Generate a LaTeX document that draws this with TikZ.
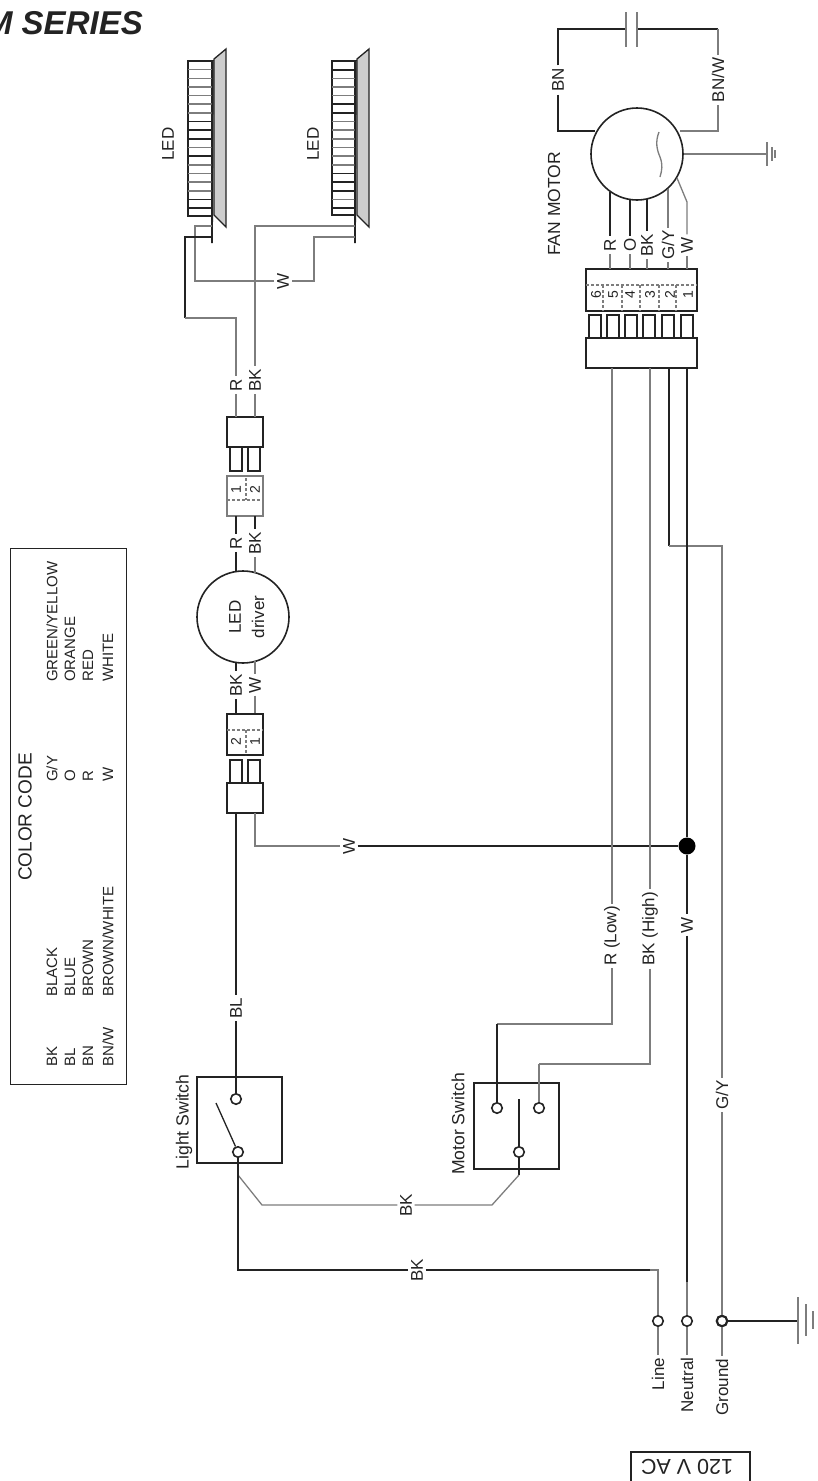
\documentclass[tikz,border=0pt]{standalone}
\usepackage{fontspec}
\setmainfont{Liberation Sans}
\usetikzlibrary{calc}
\definecolor{graywire}{RGB}{125,125,125}
\definecolor{darkwire}{RGB}{35,35,35}
\definecolor{panel}{RGB}{205,205,205}
\tikzset{
    wire/.style={draw=graywire, line width=1.3pt},
    wirek/.style={draw=darkwire, line width=1.8pt},
    box/.style={draw=darkwire, line width=1.7pt, fill=white, inner sep=0pt},
    pin/.style={draw=darkwire, line width=1.3pt},
    term/.style={circle, draw=darkwire, line width=1.6pt, fill=white, minimum size=10.5pt, inner sep=0pt},
    lbl/.style={rotate=90, inner sep=2.5pt, font=\fontsize{17}{17}\selectfont, text=darkwire},
    num/.style={rotate=90, inner sep=0pt, font=\fontsize{14}{14}\selectfont, text=darkwire},
    code/.style={rotate=90, anchor=west, inner sep=0pt, font=\fontsize{15}{15}\selectfont, text=darkwire},
    split/.style={draw=graywire, line width=1.3pt, densely dashed},
}
\begin{document}
\begin{tikzpicture}[x=1pt,y=-1pt]
    \useasboundingbox (0,0) rectangle (817,1481);

    \node[anchor=east, inner sep=0pt, font=\fontsize{33}{33}\selectfont\bfseries\itshape, text=darkwire] (title) at (143,23) {M SERIES};

    % color code
    \node[draw=darkwire, line width=1.2pt, minimum width=116pt, minimum height=536pt, inner sep=0pt, anchor=north west] (codebox) at (10,548) {};
    \node[lbl, font=\fontsize{19}{19}\selectfont] (codetitle) at (25,817) {COLOR CODE};
    \foreach \xc/\ka/\va/\kb/\vb [count=\i] in {52/BK/BLACK/G\slash Y/GREEN\slash YELLOW, 70/BL/BLUE/O/ORANGE, 88/BN/BROWN/R/RED, 108/BN\slash W/BROWN\slash WHITE/W/WHITE}{
        \node[code] (ka\i) at (\xc,1067) {\ka};
        \node[code] (va\i) at (\xc,997) {\va};
        \node[code] (kb\i) at (\xc,782) {\kb};
        \node[code] (vb\i) at (\xc,682) {\vb};
    }

    % led bars
    \draw[pin, fill=panel] (214,59) -- (226,49) -- (226,227) -- (214,215) -- cycle;
    \draw[pin, fill=panel] (357,59) -- (369,49) -- (369,227) -- (357,215) -- cycle;
    \node[box, minimum width=24pt, minimum height=155pt] (ledA) at (200,138.5) {};
    \node[box, minimum width=23pt, minimum height=154pt] (ledB) at (343.5,138) {};
    \foreach \i in {1,...,17}{
        \draw[wire, line width=1.6pt] (188,{61+8.65*\i}) -- ++(24,0);
        \draw[wire, line width=1.6pt] (332,{61+8.65*\i}) -- ++(23,0);
    }
    \foreach \i in {7,8,9,11,16,17}{
        \draw[pin, line width=1.7pt] (188,{61+8.65*\i}) -- ++(24,0);
    }
    \foreach \i in {1,5,6,13,14,15,17}{
        \draw[pin, line width=1.7pt] (332,{61+8.65*\i}) -- ++(23,0);
    }
    \coordinate (ledAend) at (212,243);
    \coordinate (ledBend) at (355,243);
    \draw[wirek] (ledA.north east) -- (ledAend);
    \draw[wirek] (ledB.north east) -- (ledBend);
    \node[lbl] (ledAl) at (168,144) {LED};
    \node[lbl] (ledBl) at (313,144) {LED};

    % led wiring
    \node[lbl] (wled) at (283,281) {W};
    \node[lbl] (rtop) at (236,385) {R};
    \node[lbl] (bktop) at (255,380) {BK};
    \draw[wire] (212,226) -- (195,226) -- (195,281) -- (wled);
    \draw[wire] (355,237) -| (314,281) -- (wled);
    \draw[wirek] (212,237) -| (185,318);
    \draw[wire] (185,318) -| (rtop);
    \draw[wire] (355,226) -| (bktop);

    % upper led connector
    \node[box, minimum width=36pt, minimum height=30pt] (plugA) at (245,432) {};
    \foreach \xa in {230,248}{
        \draw[pin] (\xa,447) rectangle ++(12,24);
    }
    \node[box, draw=graywire, minimum width=36pt, minimum height=40pt] (sockA) at (245,496) {};
    \draw[split] (227,500) -- (263,500);
    \draw[split] (246,478) -- (246,500);
    \node[num] (nA1) at (236,490) {1};
    \node[num] (nA2) at (255,490) {2};
    \draw[wire] (bktop) -- (255,417);
    \draw[wire] (rtop) -- (236,417);

    % led driver
    \node[circle, draw=darkwire, line width=1.6pt, minimum size=92pt, inner sep=0pt] (driver) at (243,617) {};
    \node[lbl] (drvA) at (235,617) {LED};
    \node[lbl] (drvB) at (258,617) {driver};
    \node[lbl] (rmid) at (236,543) {R};
    \node[lbl] (bkmid) at (255,543) {BK};
    \node[lbl] (bklow) at (236,685) {BK};
    \node[lbl] (wlow) at (255,685) {W};
    \draw[wirek] (236,516) -- (rmid);
    \draw[wirek] (rmid) -- (236,572);
    \draw[wirek] (255,516) -- (bkmid);
    \draw[wire] (bkmid) -- (255,573);
    \draw[wirek] (236,662) -- (bklow);
    \draw[wirek] (bklow) -- (236,714);
    \draw[wire] (255,661) -- (wlow);
    \draw[wire] (wlow) -- (255,714);

    % lower led connector
    \node[box, minimum width=36pt, minimum height=41pt] (sockB) at (245,734.5) {};
    \draw[split] (227,730) -- (263,730);
    \draw[split] (246,730) -- (246,755);
    \node[num] (nB2) at (236,742) {2};
    \node[num] (nB1) at (255,742) {1};
    \foreach \xa in {230,248}{
        \draw[pin] (\xa,760) rectangle ++(12,23);
    }
    \node[box, minimum width=36pt, minimum height=30pt] (plugB) at (245,798) {};

    % switches
    \node[box, minimum width=85pt, minimum height=86pt] (lsw) at (239.5,1120) {};
    \node[box, minimum width=85pt, minimum height=86pt] (msw) at (516.5,1126) {};
    \node[lbl, font=\fontsize{17.6}{17.6}\selectfont] (lswl) at (184,1122) {Light Switch};
    \node[lbl, font=\fontsize{17.6}{17.6}\selectfont] (mswl) at (458,1124) {Motor Switch};
    \node[term] (lswa) at (236,1099) {};
    \node[term] (lswb) at (238,1152) {};
    \node[term] (mswa) at (497,1108) {};
    \node[term] (mswb) at (539,1108) {};
    \node[term] (mswc) at (519,1152) {};
    \coordinate (lblade) at (216,1103);
    \coordinate (mblade) at (519,1099);
    \coordinate (mtail) at (519,1175);
    \coordinate (ltail) at (238,1175);
    \draw[wire, draw=darkwire] (lswb) -- (lblade);
    \draw[wirek] (mswc) -- (mblade);
    \draw[wirek] (mswc) -- (mtail);

    % mains
    \node[term] (line) at (658,1321) {};
    \node[term] (neutral) at (687,1321) {};
    \node[term, line width=2.2pt] (ground) at (722,1321) {};
    \node[lbl] (linel) at (658,1374) {Line};
    \node[lbl] (neutrall) at (687,1385) {Neutral};
    \node[lbl] (groundl) at (722,1387) {Ground};
    \draw[wire] (line) -- (linel);
    \draw[wire] (neutral) -- (neutrall);
    \draw[wire] (ground) -- (groundl);
    \coordinate (earthA) at (798,1321);
    \draw[wirek] (ground) -- (earthA);
    \draw[wire] (798,1297) -- (798,1344);
    \draw[wire] (806,1304) -- (806,1336);
    \draw[wire] (813,1311) -- (813,1329);
    \node[lbl, rotate=90, font=\fontsize{21.5}{21.5}\selectfont] (acl) at (687,1467) {120 V AC};
    \draw[pin] (631,1481) -- (631,1452) -- (750,1452) -- (750,1481);

    % light switch wiring
    \node[lbl] (bl) at (236,1008) {BL};
    \draw[wirek] (236,813) -- (bl);
    \draw[wirek] (bl) -- (lswa);
    \node[lbl] (bkA) at (406,1205) {BK};
    \node[lbl] (bkB) at (417,1270) {BK};
    \draw[wire] (ltail) -- (262,1205) -- (bkA);
    \draw[wire] (bkA) -- (492,1205) -- (mtail);
    \draw[wirek] (lswb) -- (238,1270) -- (bkB);
    \draw[wirek] (bkB) -- (650,1270);
    \draw[wire] (650,1270) -| (line);

    % neutral and return
    \node[circle, fill=black, minimum size=17pt, inner sep=0pt] (junction) at (687,846) {};
    \node[lbl] (wup) at (349,846) {W};
    \node[lbl] (wdown) at (687,925) {W};
    \draw[wire] (255,813) -- (255,846) -- (wup);
    \draw[wirek] (wup) -- (junction);
    \coordinate (nA) at (687,1282);

    % fan motor
    \node[circle, draw=darkwire, line width=1.6pt, minimum size=92pt, inner sep=0pt] (motor) at (637,154) {};
    \draw[wire] (659,132) .. controls (655,142) and (657,150) .. (660,157) .. controls (663,165) and (662,170) .. (660,177);
    \node[lbl, font=\fontsize{17.5}{17.5}\selectfont] (motorl) at (554,204) {FAN MOTOR};
    \node[lbl] (bn) at (558,80) {BN};
    \node[lbl] (bnw) at (718,80) {BN/W};
    \coordinate (capA) at (626,29);
    \coordinate (capB) at (637,29);
    \draw[wirek] (bn) -- (558,29) -- (capA);
    \draw[wirek] (bn) -- (558,131) -- (595,131);
    \draw[wirek] (capB) -- (718,29);
    \draw[wire] (718,29) -- (bnw);
    \draw[wire] (bnw) -- (718,131) -- (680,131);
    \draw[wire] (626,12) -- (626,47);
    \draw[wire] (637,12) -- (637,47);
    \coordinate (earthB) at (767,154);
    \draw[wire] (motor) -- (earthB);
    \draw[wire] (767,142) -- (767,166);
    \draw[wire] (772,147) -- (772,161);
    \draw[wire] (775,150) -- (775,158);

    % motor connector
    \node[box, minimum width=111pt, minimum height=42pt] (sockM) at (641.5,290) {};
    \draw[split] (586,285) -- (697,285);
    \foreach \xd in {603,622,640,659,676}{
        \draw[split] (\xd,285) -- (\xd,311);
    }
    \foreach \xn/\t in {596/6,613/5,630/4,650/3,670/2,688/1}{
        \node[num] (n\t) at (\xn,295) {\t};
    }
    \foreach \xa in {589,607,625,643,662,681}{
        \draw[pin] (\xa,315) rectangle ++(12,23);
    }
    \node[box, minimum width=111pt, minimum height=30pt] (plugM) at (641.5,353) {};
    \node[lbl] (mr) at (610,245) {R};
    \node[lbl] (mo) at (630,245) {O};
    \node[lbl] (mbk) at (647,245) {BK};
    \node[lbl] (mgy) at (668,245) {G/Y};
    \node[lbl] (mw) at (687,245) {W};
    \draw[wirek] (610,192) -- (mr);
    \draw[wirek] (630,199) -- (mo);
    \draw[wirek] (647,199) -- (mbk);
    \draw[wire] (668,189) -- (mgy);
    \draw[wire] (677,178) -- (687,202) -- (mw);
    \foreach \xw/\t in {610/mr,630/mo,647/mbk,668/mgy,687/mw}{
        \draw[wire] (\t) -- (\xw,269);
    }

    % long wires
    \node[lbl] (rlow) at (612,936) {R (Low)};
    \node[lbl] (bkhigh) at (650,929) {BK (High)};
    \node[lbl] (gy) at (722,1095) {G/Y};
    \draw[wire] (612,368) -- (rlow);
    \draw[wire] (rlow) -- (612,1024) -- (497,1024);
    \draw[wirek] (497,1024) -- (mswa);
    \draw[wire] (650,368) -- (bkhigh);
    \draw[wire] (bkhigh) -- (650,1064) -- (539,1064);
    \draw[wire] (539,1064) -- (mswb);
    \draw[wirek] (669,368) -- (669,546);
    \draw[wire] (669,546) -- (722,546) -- (gy);
    \draw[wire] (gy) -- (ground);
    \draw[wirek] (687,368) -- (junction);
    \draw[wirek] (junction) -- (wdown);
    \draw[wirek] (wdown) -- (nA);
    \draw[wire] (nA) -- (neutral);

\end{tikzpicture}
\end{document}
